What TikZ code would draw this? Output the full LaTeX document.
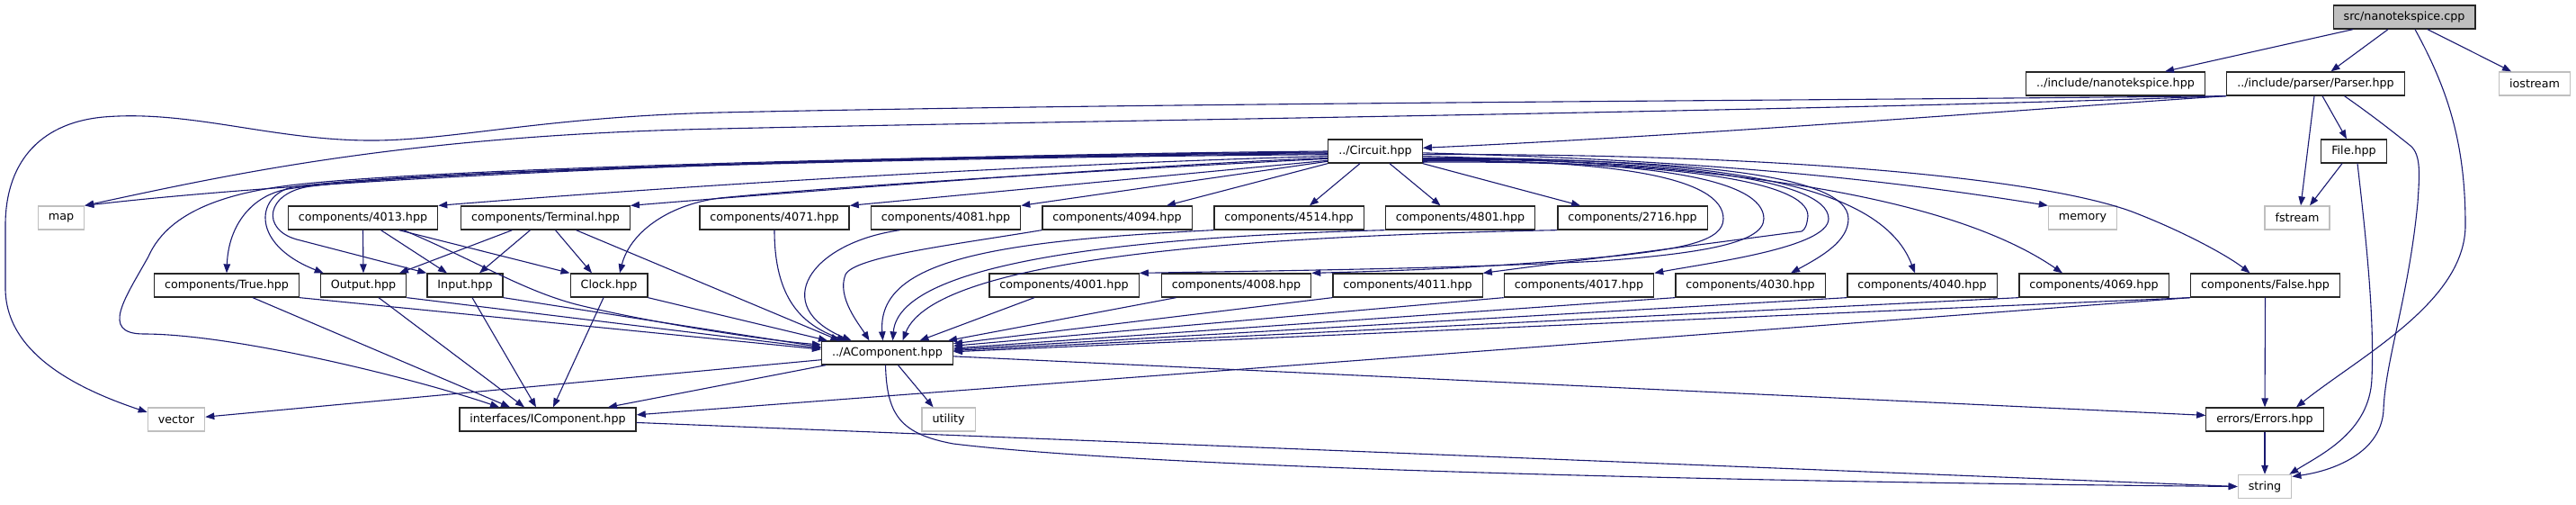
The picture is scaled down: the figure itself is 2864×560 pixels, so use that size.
\documentclass[tikz,border=0pt]{standalone}
\usepackage{fontspec}
\setmainfont{DejaVu Sans}
\usetikzlibrary{arrows.meta}
\definecolor{midnightblue}{RGB}{25,25,112}
\definecolor{grey75}{RGB}{191,191,191}

\begin{document}
\begin{tikzpicture}[x=1pt,y=-1pt,
  every node/.style={font=\fontsize{12.7}{15}\selectfont, minimum height=26pt, inner xsep=11.5pt, inner ysep=0pt},
  box/.style={draw=black!85, fill=white, line width=1.3pt},
  ext/.style={draw=grey75, fill=white, line width=1.3pt},
  root/.style={draw=black!85, fill=grey75, line width=1.3pt},
  dep/.style={draw=midnightblue, line width=1.1pt, -{Triangle[length=10pt,width=7.5pt]}}]
\useasboundingbox (0,0) rectangle (2864,560);
\node [root] (src) at (2673,19) {src/nanotekspice.cpp};
\node [box] (nts) at (2352,93) {../include/nanotekspice.hpp};
\node [box] (parser) at (2574.5,93) {../include/parser/Parser.hpp};
\node [ext] (iostream) at (2818,93) {iostream};
\node [box] (circuit) at (1529,168) {../Circuit.hpp};
\node [box] (file) at (2617,168) {File.hpp};
\node [ext] (map) at (68,242) {map};
\node [box] (c4013) at (403.5,242) {components/4013.hpp};
\node [box] (terminal) at (606.5,242) {components/Terminal.hpp};
\node [box] (c4071) at (861,242) {components/4071.hpp};
\node [box] (c4081) at (1051.5,242) {components/4081.hpp};
\node [box] (c4094) at (1242,242) {components/4094.hpp};
\node [box] (c4514) at (1433,242) {components/4514.hpp};
\node [box] (c4801) at (1623.5,242) {components/4801.hpp};
\node [box] (c2716) at (1815,242) {components/2716.hpp};
\node [ext] (memory) at (2315.5,242) {memory};
\node [ext] (fstream) at (2554,242) {fstream};
\node [box] (ctrue) at (252,317) {components/True.hpp};
\node [box] (output) at (404,317) {Output.hpp};
\node [box] (input) at (517,317) {Input.hpp};
\node [box] (clock) at (677,317) {Clock.hpp};
\node [box] (c4001) at (1183,317) {components/4001.hpp};
\node [box] (c4008) at (1374.5,317) {components/4008.hpp};
\node [box] (c4011) at (1565,317) {components/4011.hpp};
\node [box] (c4017) at (1755.5,317) {components/4017.hpp};
\node [box] (c4030) at (1946,317) {components/4030.hpp};
\node [box] (c4040) at (2137,317) {components/4040.hpp};
\node [box] (c4069) at (2328,317) {components/4069.hpp};
\node [box] (cfalse) at (2518.5,317) {components/False.hpp};
\node [box] (acomp) at (986.5,392) {../AComponent.hpp};
\node [ext] (vector) at (196,466) {vector};
\node [box] (icomp) at (609,466) {interfaces/IComponent.hpp};
\node [ext] (utility) at (1054.6,466) {utility};
\node [box] (errors) at (2518,466) {errors/Errors.hpp};
\node [ext] (string) at (2518,540.5) {string};

\draw[dep] ([xshift=-57]src.south) -- ([xshift=55]nts.north);
\draw[dep] ([xshift=-18]src.south) -- ([xshift=17]parser.north);
\draw[dep] ([xshift=26]src.south) -- ([xshift=-26]iostream.north);
\draw[dep] ([xshift=12]src.south) .. controls (2722,100) and (2741,160) .. (2741,250) .. controls (2741,335) and (2625,395) .. ([xshift=35]errors.north);

\draw[dep] (parser.south west) .. controls (2300,118) and (1900,150) .. (circuit.4);
\draw[dep] (parser.south west) .. controls (2000,124) and (1200,134) .. (800,143) .. controls (450,150) and (250,195) .. (map.north east);
\draw[dep] (parser.south west) .. controls (2000,112) and (1300,114) .. (800,125) .. controls (600,130) and (500,157) .. (408,156) .. controls (300,155) and (210,122) .. (115,130) .. controls (40,137) and (6,185) .. (6,250) -- (6,320) .. controls (6,390) and (80,430) .. (vector.166);
\draw[dep] ([xshift=7.5]parser.south) -- ([xshift=-8]file.north);
\draw[dep] ([xshift=-1.5]parser.south) -- ([xshift=4]fstream.north);
\draw[dep] ([xshift=32]parser.south) .. controls (2640,130) and (2665,150) .. (2680,162) .. controls (2692,172) and (2690,195) .. (2688,225) .. controls (2678,330) and (2652,400) .. (2650,455) .. controls (2648,500) and (2600,522) .. (string.20);
\draw[dep] ([xshift=-13]file.south) -- ([xshift=14]fstream.north);
\draw[dep] ([xshift=4]file.south) .. controls (2630,260) and (2640,350) .. (2637,420) .. controls (2635,480) and (2580,505) .. ([xshift=-3]string.north east);
\draw[dep] (errors) -- (string);
\draw[dep] (cfalse) -- (errors);

\draw[dep] (circuit.180) .. controls (1000,172) and (400,193) .. (map.north east);
\draw[dep] (circuit.181) .. controls (1000,173) and (480,188) .. (330,205) .. controls (240,215) and (185,240) .. (165,285) .. controls (140,330) and (110,371) .. (160,371) .. controls (260,371) and (460,420) .. ([xshift=-54]icomp.north);
\draw[dep] (circuit.182) .. controls (1000,173) and (450,190) .. (320,210) .. controls (280,217) and (254,250) .. (ctrue.north);
\draw[dep] (circuit.183) .. controls (1000,174) and (460,190) .. (330,207) .. controls (285,213) and (275,270) .. ([xshift=4]output.north west);
\draw[dep] (circuit.184) .. controls (1000,175) and (470,190) .. (345,207) .. controls (295,214) and (290,255) .. (330,266) -- (input.north west);
\draw[dep] (circuit.186) .. controls (1300,178) and (900,195) .. (c4013.north east);
\draw[dep] (circuit.188) .. controls (1300,182) and (950,208) .. (terminal.north east);
\draw[dep] (circuit.189) .. controls (1300,185) and (950,205) .. (800,220) .. controls (740,228) and (700,260) .. ([xshift=12]clock.north);
\draw[dep] (circuit.191) -- (c4071.north east);
\draw[dep] (circuit.192) -- (c4081.north east);
\draw[dep] (circuit.south west) -- ([xshift=55]c4094.north);
\draw[dep] ([xshift=-17]circuit.south) -- ([xshift=23]c4514.north);
\draw[dep] ([xshift=16]circuit.south) -- ([xshift=-22]c4801.north);
\draw[dep] (circuit.south east) -- ([xshift=-58]c2716.north);

\draw[dep] (circuit.358) .. controls (1900,178) and (2100,200) .. (memory.north west);
\draw[dep] (circuit.356) .. controls (1950,170) and (2260,195) .. (2370,235) .. controls (2430,258) and (2478,285) .. ([xshift=-17]cfalse.north);
\draw[dep] (circuit.354) .. controls (1850,180) and (2150,205) .. ([xshift=-35]c4069.north);
\draw[dep] (circuit.352) .. controls (1900,175) and (2090,200) .. ([xshift=-8]c4040.north);
\draw[dep] (circuit.351) .. controls (1850,176) and (2055,190) .. (2055,243) .. controls (2055,268) and (2025,285) .. ([xshift=45]c4030.north);
\draw[dep] (circuit.350) .. controls (1850,176) and (2033,198) .. (2033,243) .. controls (2033,275) and (1900,292) .. (c4017.north east);
\draw[dep] (circuit.347) .. controls (1850,178) and (2011,200) .. (2010,240) .. controls (2009,250) and (2007,255) .. (2003,257) -- (c4011.north east);
\draw[dep] (circuit.349) .. controls (1800,177) and (1916,198) .. (1916,243) .. controls (1916,268) and (1870,276) .. (1800,284) .. controls (1650,298) and (1550,301) .. (c4008.north east);
\draw[dep] (circuit.348) .. controls (1830,177) and (1961,198) .. (1961,243) .. controls (1961,272) and (1880,282) .. (1780,290) .. controls (1600,299) and (1400,301) .. (c4001.north east);

\draw[dep] (c4013.south) -- (output.north);
\draw[dep] ([xshift=20]c4013.south) -- ([xshift=-20]input.north);
\draw[dep] ([xshift=40]c4013.south) -- (clock.north west);
\draw[dep] ([xshift=-37]terminal.south) -- ([xshift=40]output.north);
\draw[dep] ([xshift=-17]terminal.south) -- ([xshift=16]input.north);
\draw[dep] ([xshift=11]terminal.south) -- ([xshift=-19]clock.north);

\draw[dep] (c4071.south) .. controls (861,330) and (890,360) .. ([xshift=-46]acomp.north);
\draw[dep] ([xshift=-51]c4081.south) .. controls (900,270) and (855,340) .. ([xshift=-40]acomp.north);
\draw[dep] (c4094.south west) .. controls (1060,272) and (950,285) .. (940,305) .. controls (930,330) and (955,360) .. ([xshift=-20]acomp.north);
\draw[dep] (c4514.south west) .. controls (1100,268) and (975,290) .. ([xshift=-5]acomp.north);
\draw[dep] (c4801.south west) .. controls (1300,262) and (1000,285) .. ([xshift=6]acomp.north);
\draw[dep] (c2716.south west) .. controls (1400,262) and (1040,285) .. ([xshift=17]acomp.north);
\draw[dep] ([xshift=-33]c4001.south) -- ([xshift=36]acomp.north);
\draw[dep] ([xshift=-67]c4008.south) -- ([xshift=-6]acomp.north east);
\draw[dep] (c4011.south west) -- (acomp.8);
\draw[dep] (c4017.south west) -- (acomp.6);
\draw[dep] (c4030.south west) -- (acomp.4);
\draw[dep] (c4040.south west) -- (acomp.3);
\draw[dep] (c4069.south west) -- (acomp.2);
\draw[dep] (cfalse.south west) -- (acomp.1);
\draw[dep] (cfalse.south west) -- (icomp.3);

\draw[dep] (ctrue.south east) -- (acomp.177);
\draw[dep] (output.south east) -- (acomp.176);
\draw[dep] (input.south east) -- (acomp.175);
\draw[dep] (clock.south east) -- ([xshift=7]acomp.north west);
\draw[dep] ([xshift=34]terminal.south) -- ([xshift=-53]acomp.north);
\draw[dep] ([xshift=45]c4013.south) .. controls (530,290) and (580,322) .. (640,338) .. controls (720,358) and (850,378) .. (acomp.173);

\draw[dep] ([xshift=29]ctrue.south) -- ([xshift=-42]icomp.north);
\draw[dep] ([xshift=17]output.south) -- ([xshift=-26]icomp.north);
\draw[dep] ([xshift=8]input.south) -- ([xshift=-13]icomp.north);
\draw[dep] ([xshift=-6]clock.south) -- ([xshift=6]icomp.north);

\draw[dep] (acomp.186) -- (vector.5);
\draw[dep] ([xshift=5]acomp.south west) -- ([xshift=67]icomp.north);
\draw[dep] ([xshift=12]acomp.south) -- ([xshift=-17]utility.north);
\draw[dep] ([xshift=-2]acomp.south) .. controls (986,460) and (1000,482) .. (1060,493) .. controls (1300,522) and (2000,536) .. (string.west);
\draw[dep] (acomp.357) -- (errors.176);
\draw[dep] (icomp.358) -- (string.west);
\end{tikzpicture}
\end{document}
